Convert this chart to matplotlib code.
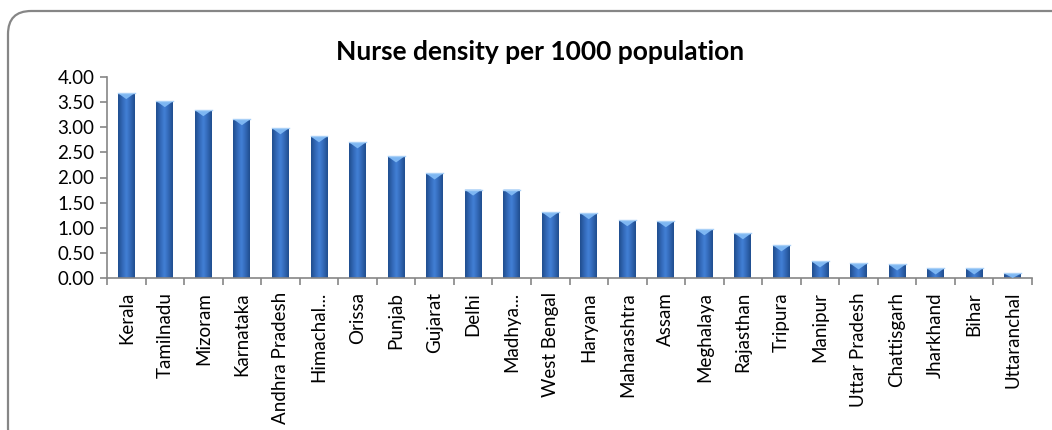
import matplotlib.pyplot as plt
import numpy as np
from matplotlib.colors import LinearSegmentedColormap
from matplotlib.patches import Polygon, FancyBboxPatch

plt.rcParams['font.family'] = ['Lato', 'DejaVu Sans']

states = ['Kerala', 'Tamilnadu', 'Mizoram', 'Karnataka', 'Andhra Pradesh',
          'Himachal...', 'Orissa', 'Punjab', 'Gujarat', 'Delhi', 'Madhya...',
          'West Bengal', 'Haryana', 'Maharashtra', 'Assam', 'Meghalaya',
          'Rajasthan', 'Tripura', 'Manipur', 'Uttar Pradesh', 'Chattisgarh',
          'Jharkhand', 'Bihar', 'Uttaranchal']
density = [3.68, 3.52, 3.34, 3.16, 2.98, 2.82, 2.70, 2.42, 2.08, 1.76, 1.76,
           1.31, 1.29, 1.15, 1.13, 0.97, 0.89, 0.65, 0.33, 0.29, 0.27,
           0.19, 0.19, 0.09]
yticks = [0, 0.5, 1, 1.5, 2, 2.5, 3, 3.5, 4]

BAR_W = 0.44
grad = LinearSegmentedColormap.from_list(
    'bar', ['#1f4d8e', '#3268b6', '#4280d6', '#3268b6', '#1f4d8e'])

fig = plt.figure(figsize=(10.52, 4.3), dpi=100)

# rounded chart border, runs off the right and bottom edge
top = 1 - 11 / 430
border = FancyBboxPatch((8 / 1052, -0.05), 1.05, top + 0.05,
                        boxstyle='round,pad=0,rounding_size=0.022',
                        transform=fig.transFigure, fill=False,
                        edgecolor='#868686', linewidth=1.6,
                        mutation_aspect=1052 / 430)
fig.patches.append(border)

ax = fig.add_axes([107 / 1052, (430 - 278) / 430, 925 / 1052, 201 / 430])
x = np.arange(len(states))
bars = ax.bar(x, density, width=BAR_W, color='none', edgecolor='none')

g = np.linspace(0, 1, 64).reshape(1, -1)
tri_h = 0.12
for rect, val in zip(bars, density):
    x0 = rect.get_x()
    im = ax.imshow(g, cmap=grad, aspect='auto', interpolation='bicubic',
                   extent=[x0, x0 + BAR_W, 0, val], zorder=2)
    im.set_clip_path(rect)
    d = min(tri_h, val)
    tri = Polygon([[x0, val], [x0 + BAR_W, val], [x0 + BAR_W / 2, val - d]],
                  closed=True, facecolor='#7db6f2', edgecolor='none', zorder=3)
    ax.add_patch(tri)
    ax.plot([x0, x0 + BAR_W], [val, val], color='#a9d0f7', lw=1, zorder=3)

ax.set_xlim(-0.5, len(states) - 0.5)
ax.set_ylim(0, 4)
ax.set_yticks(yticks)
ax.set_yticklabels(['%.2f' % v for v in yticks], fontsize=13.5)
ax.set_xticks(x)
ax.set_xticklabels(states, rotation=90, fontsize=13.5)
ax.set_xticks(np.arange(-0.5, len(states)), minor=True)
ax.tick_params(axis='x', which='major', length=0, pad=10)
ax.tick_params(axis='x', which='minor', length=5, color='#868686', width=1.2)
ax.tick_params(axis='y', length=5, color='#868686', width=1.2, pad=4)

for side in ['top', 'right']:
    ax.spines[side].set_visible(False)
for side in ['left', 'bottom']:
    ax.spines[side].set_color('#868686')
    ax.spines[side].set_linewidth(1.2)

fig.text(540 / 1052, 1 - 52 / 430, 'Nurse density per 1000 population',
         ha='center', va='center', fontsize=19, fontweight='bold')

fig.savefig('out.png', dpi=100)
